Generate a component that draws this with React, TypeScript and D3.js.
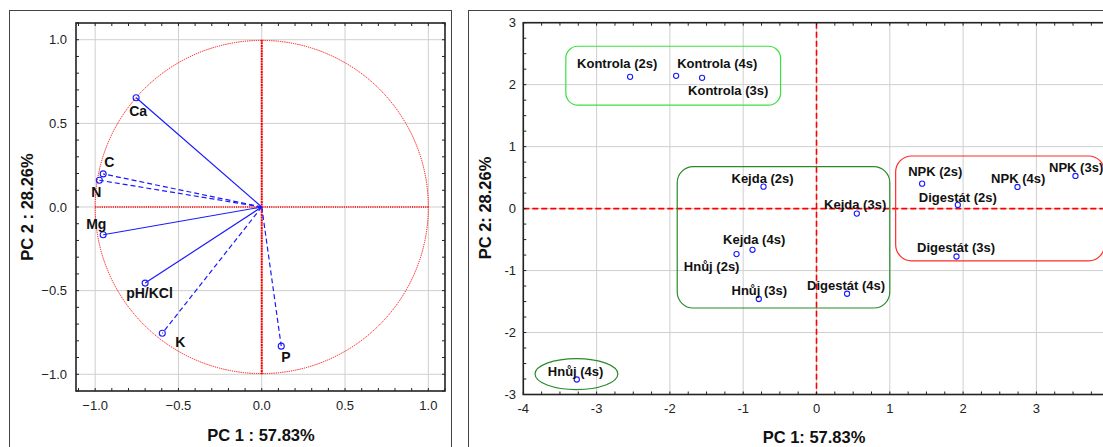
import React from "react";
import * as d3 from "d3";

// ---------- Left panel: loadings ----------
const loadVars = ["Ca", "C", "N", "Mg", "pH/KCl", "K", "P"];
const loadPC1 = [-0.754, -0.952, -0.975, -0.952, -0.70, -0.597, 0.117];
const loadPC2 = [0.653, 0.198, 0.160, -0.166, -0.455, -0.755, -0.832];
const loadDashed = [false, true, true, false, false, true, true];
// label offsets in px (start x, baseline)
const loadLabelDx = [-7, 1, -8, -17, -19, 13, 0];
const loadLabelDy = [18, -7, 17, -6, 15, 14, 16];
const loadTicks = [-1.0, -0.5, 0.0, 0.5, 1.0];

// ---------- Right panel: scores ----------
const sampleNames = [
  "Kontrola (2s)", "Kontrola (4s)", "Kontrola (3s)",
  "Kejda (2s)", "Kejda (3s)", "Kejda (4s)",
  "Hnůj (2s)", "Hnůj (3s)", "Digestát (4s)", "Hnůj (4s)",
  "NPK (2s)", "Digestát (2s)", "NPK (4s)", "NPK (3s)", "Digestát (3s)",
];
const scorePC1 = [-2.543, -1.915, -1.561, -0.723, 0.550, -0.873, -1.091, -0.787, 0.417, -3.27, 1.441, 1.928, 2.742, 3.533, 1.910];
const scorePC2 = [2.126, 2.142, 2.110, 0.354, -0.081, -0.665, -0.734, -1.459, -1.374, -2.758, 0.403, 0.060, 0.349, 0.527, -0.773];
const sampleLabelDx = [-53, 1, -14, -32, -32.7, -29.4, -52.7, -27.3, -40, -29, -14, -39, -26.4, -26.4, -39.4];
const sampleLabelDy = [-8.7, -7.7, 17.3, -4, -4.7, -5.7, 16.7, -3.6, -3.3, -4, -7.7, -3.3, -3.7, -3.7, -5];
const scoreXTicks = [-4, -3, -2, -1, 0, 1, 2, 3];
const scoreYTicks = [-3, -2, -1, 0, 1, 2, 3];

// group outlines (data coordinates)
const groupBoxX0 = [-3.42, -1.90, 1.08];
const groupBoxX1 = [-0.49, 1.00, 3.93];
const groupBoxY0 = [1.67, -1.604, -0.842];
const groupBoxY1 = [2.62, 0.676, 0.849];
const groupBoxColor = ["#3ee03e", "#2a8a2a", "#ff2a2a"];
const groupBoxRadius = [12, 16, 16];
const ellipseCenter = [-3.275, -2.67];
const ellipseRadii = [0.565, 0.25];

const FONT = "'Liberation Sans', Arial, Helvetica, sans-serif";
const BLUE = "#1a1aff";
const RED = "#ff0000";
const GRID = "#cfcfcf";

function range(a: number, b: number, step: number) {
  const out: number[] = [];
  const n = Math.round((b - a) / step);
  for (let i = 0; i <= n; i++) out.push(+(a + i * step).toFixed(6));
  return out;
}

function Frame({ x, y, xs, ys, minorX, minorY, tickLen }: any) {
  const [x0, x1] = xs.range();
  const [y0, y1] = ys.range(); // y0 bottom, y1 top
  return (
    <g>
      {minorX.map((v: number, i: number) => {
        const px = xs(v);
        if (px < x0 - 0.5 || px > x1 + 0.5) return null;
        return (
          <g key={"mx" + i}>
            <line x1={px} x2={px} y1={y0} y2={y0 - tickLen} stroke="#222" strokeWidth={1} />
            <line x1={px} x2={px} y1={y1} y2={y1 + tickLen} stroke="#222" strokeWidth={1} />
          </g>
        );
      })}
      {minorY.map((v: number, i: number) => {
        const py = ys(v);
        if (py > y0 + 0.5 || py < y1 - 0.5) return null;
        return (
          <g key={"my" + i}>
            <line x1={x0} x2={x0 + tickLen} y1={py} y2={py} stroke="#222" strokeWidth={1} />
            <line x1={x1} x2={x1 - tickLen} y1={py} y2={py} stroke="#222" strokeWidth={1} />
          </g>
        );
      })}
      <rect x={x0} y={y1} width={x1 - x0} height={y0 - y1} fill="none" stroke="#222" strokeWidth={1.6} />
    </g>
  );
}

export default function App() {
  // left scales
  const xL = d3.scaleLinear().domain([-1.115, 1.1]).range([76, 445]);
  const yL = d3.scaleLinear().domain([-1.1, 1.1]).range([391, 23]);
  // right scales
  const xR = d3.scaleLinear().domain([-4, 4]).range([523.3, 1109.7]);
  const yR = d3.scaleLinear().domain([-3, 3]).range([394.5, 22.7]);

  const circlePath = d3.path();
  circlePath.arc(xL(0), yL(0), xL(1) - xL(0), 0, Math.PI * 2);

  const fmt = d3.format(".1f");

  return (
    <svg
      width={1103}
      height={447}
      style={{ position: "absolute", left: 0, top: 0, background: "#fff" }}
      fontFamily={FONT}
    >
      <rect x={0} y={0} width={1103} height={447} fill="#fff" />
      {/* ---------- LEFT PANEL ---------- */}
      <rect x={9.5} y={10.5} width={442} height={460} fill="none" stroke="#444" strokeWidth={1} />
      {/* grid */}
      {loadTicks.map((t, i) => (
        <g key={"lg" + i}>
          <line x1={xL(t)} x2={xL(t)} y1={yL.range()[0]} y2={yL.range()[1]} stroke={GRID} strokeWidth={1} />
          <line x1={xL.range()[0]} x2={xL.range()[1]} y1={yL(t)} y2={yL(t)} stroke={GRID} strokeWidth={1} />
        </g>
      ))}
      {/* unit circle and axes */}
      <path d={circlePath.toString()} fill="none" stroke={RED} strokeWidth={1} strokeDasharray="1.2,1" />
      <line x1={xL(-1)} x2={xL(1)} y1={yL(0)} y2={yL(0)} stroke={RED} strokeWidth={1.3} strokeDasharray="1.2,1" />
      <line x1={xL(0)} x2={xL(0)} y1={yL(1)} y2={yL(-1)} stroke={RED} strokeWidth={2} strokeDasharray="2,0.6" />
      {/* vectors */}
      {loadVars.map((v, i) => (
        <g key={"lv" + i}>
          <line
            x1={xL(0)}
            y1={yL(0)}
            x2={xL(loadPC1[i])}
            y2={yL(loadPC2[i])}
            stroke={BLUE}
            strokeWidth={1.2}
            strokeDasharray={loadDashed[i] ? "5,3" : undefined}
          />
          <circle cx={xL(loadPC1[i])} cy={yL(loadPC2[i])} r={3} fill="none" stroke={BLUE} strokeWidth={1.1} />
          <text
            x={xL(loadPC1[i]) + loadLabelDx[i]}
            y={yL(loadPC2[i]) + loadLabelDy[i]}
            fontSize={14}
            fontWeight="bold"
            fill="#111"
          >
            {v}
          </text>
        </g>
      ))}
      <Frame xs={xL} ys={yL} minorX={range(-1.1, 1.1, 0.1)} minorY={range(-1.1, 1.1, 0.1)} tickLen={3} />
      {/* tick labels */}
      {loadTicks.map((t, i) => (
        <text key={"lxt" + i} x={xL(t)} y={410} fontSize={13} textAnchor="middle" fill="#222">
          {fmt(t)}
        </text>
      ))}
      {loadTicks.map((t, i) => (
        <text key={"lyt" + i} x={67} y={yL(t) + 4.5} fontSize={13} textAnchor="end" fill="#222">
          {fmt(t)}
        </text>
      ))}
      <text x={261} y={441} fontSize={16.5} fontWeight="bold" textAnchor="middle" fill="#111">
        PC 1 : 57.83%
      </text>
      <text
        transform={`translate(33,207) rotate(-90)`}
        fontSize={16.5}
        fontWeight="bold"
        textAnchor="middle"
        fill="#111"
      >
        PC 2 : 28.26%
      </text>

      {/* ---------- RIGHT PANEL ---------- */}
      <rect x={468.5} y={10.5} width={700} height={460} fill="none" stroke="#444" strokeWidth={1} />
      {scoreXTicks.map((t, i) => (
        <line key={"rgx" + i} x1={xR(t)} x2={xR(t)} y1={yR(-3)} y2={yR(3)} stroke={GRID} strokeWidth={1} />
      ))}
      {scoreYTicks.map((t, i) => (
        <line key={"rgy" + i} x1={xR(-4)} x2={xR(4)} y1={yR(t)} y2={yR(t)} stroke={GRID} strokeWidth={1} />
      ))}
      <line x1={xR(0)} x2={xR(0)} y1={yR(3)} y2={yR(-3)} stroke={RED} strokeWidth={1.6} strokeDasharray="6,3" />
      <line x1={xR(-4)} x2={xR(4)} y1={yR(0)} y2={yR(0)} stroke={RED} strokeWidth={1.6} strokeDasharray="6,3" />
      {/* group outlines */}
      {groupBoxX0.map((x0, i) => (
        <rect
          key={"gb" + i}
          x={xR(x0)}
          y={yR(groupBoxY1[i])}
          width={xR(groupBoxX1[i]) - xR(x0)}
          height={yR(groupBoxY0[i]) - yR(groupBoxY1[i])}
          rx={groupBoxRadius[i]}
          ry={groupBoxRadius[i]}
          fill="none"
          stroke={groupBoxColor[i]}
          strokeWidth={1.2}
        />
      ))}
      <ellipse
        cx={xR(ellipseCenter[0])}
        cy={yR(ellipseCenter[1])}
        rx={xR(ellipseRadii[0]) - xR(0)}
        ry={yR(0) - yR(ellipseRadii[1])}
        fill="none"
        stroke="#2a8a2a"
        strokeWidth={1.2}
      />
      {sampleNames.map((n, i) => (
        <g key={"sp" + i}>
          <circle cx={xR(scorePC1[i])} cy={yR(scorePC2[i])} r={2.6} fill="none" stroke={BLUE} strokeWidth={1.1} />
          <text
            x={xR(scorePC1[i]) + sampleLabelDx[i]}
            y={yR(scorePC2[i]) + sampleLabelDy[i]}
            fontSize={13}
            fontWeight="bold"
            fill="#111"
          >
            {n}
          </text>
        </g>
      ))}
      <Frame xs={xR} ys={yR} minorX={range(-4, 4, 0.25)} minorY={range(-3, 3, 0.25)} tickLen={3} />
      {scoreXTicks.map((t, i) => (
        <text key={"rxt" + i} x={xR(t)} y={413} fontSize={13} textAnchor="middle" fill="#222">
          {t}
        </text>
      ))}
      {scoreYTicks.map((t, i) => (
        <text key={"ryt" + i} x={516} y={yR(t) + 4.5} fontSize={13} textAnchor="end" fill="#222">
          {t}
        </text>
      ))}
      <text x={814} y={443} fontSize={16.5} fontWeight="bold" textAnchor="middle" fill="#111">
        PC 1: 57.83%
      </text>
      <text
        transform={`translate(491,208) rotate(-90)`}
        fontSize={16.5}
        fontWeight="bold"
        textAnchor="middle"
        fill="#111"
      >
        PC 2: 28.26%
      </text>
    </svg>
  );
}
